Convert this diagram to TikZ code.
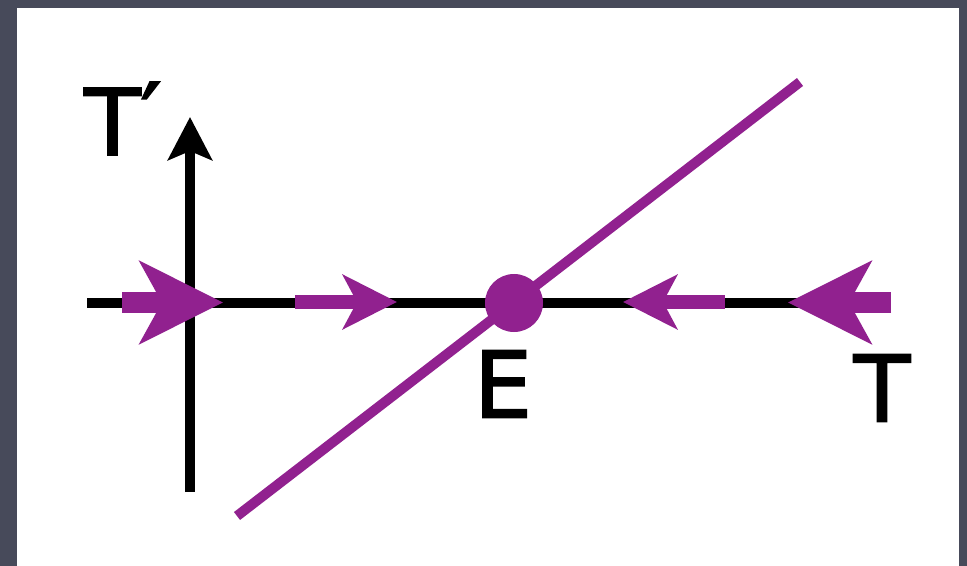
\documentclass[tikz,border=0pt]{standalone}
\usepackage{fontspec}
\setmainfont{DejaVu Sans}
\newfontfamily\lblfont{DejaVu Sans}[FakeBold=2]
\usetikzlibrary{arrows.meta}
\definecolor{framecol}{RGB}{71,74,90}
\definecolor{purp}{RGB}{145,33,143}
\tikzset{
  axisline/.style={line width=5pt, black},
  bigarrow/.style={purp, line width=10.5pt, -{Stealth[length=41.5pt,width=41pt,inset=11pt]}},
  medarrow/.style={purp, line width=7pt, -{Stealth[length=27pt,width=27pt,inset=7pt]}},
  lbl/.style={inner sep=0pt, font=\lblfont\fontsize{46}{50}\selectfont}
}
\begin{document}
\begin{tikzpicture}[x=0.5pt,y=-0.5pt]
\useasboundingbox (0,0) rectangle (967,566);
\fill[framecol] (0,0) rectangle (967,566);
\fill[white] (17,8) rectangle (959,566);
% axes
\coordinate (xl) at (87,303);
\coordinate (xr) at (886,303);
\coordinate (yb) at (190,492);
\coordinate (yt) at (190,117);
\draw[axisline] (xl) -- (xr);
\draw[line width=4.75pt, black, -{Stealth[length=21.5pt,width=22pt,inset=4.5pt]}] (yb) -- (yt);
% purple line
\coordinate (pl) at (237,516);
\coordinate (pu) at (800,82);
\draw[purp, line width=5pt] (pl) -- (pu);
\node[circle, fill=purp, inner sep=0pt, minimum size=29pt] (E) at (514,303) {};
% flow arrows
\coordinate (a1s) at (122,302.5);
\coordinate (a1t) at (223,302.5);
\coordinate (a2s) at (295,302);
\coordinate (a2t) at (397,302);
\coordinate (a3s) at (725,302);
\coordinate (a3t) at (623,302);
\coordinate (a4s) at (891,302.5);
\coordinate (a4t) at (788,302.5);
\draw[bigarrow] (a1s) -- (a1t);
\draw[medarrow] (a2s) -- (a2t);
\draw[medarrow] (a3s) -- (a3t);
\draw[bigarrow] (a4s) -- (a4t);
% labels
\node[lbl, anchor=base west] (tp) at (84,155) {T\raisebox{3pt}{′}};
\node[lbl] (el) at (503,384) {E};
\node[lbl] (tl) at (882,388) {T};
\end{tikzpicture}
\end{document}
